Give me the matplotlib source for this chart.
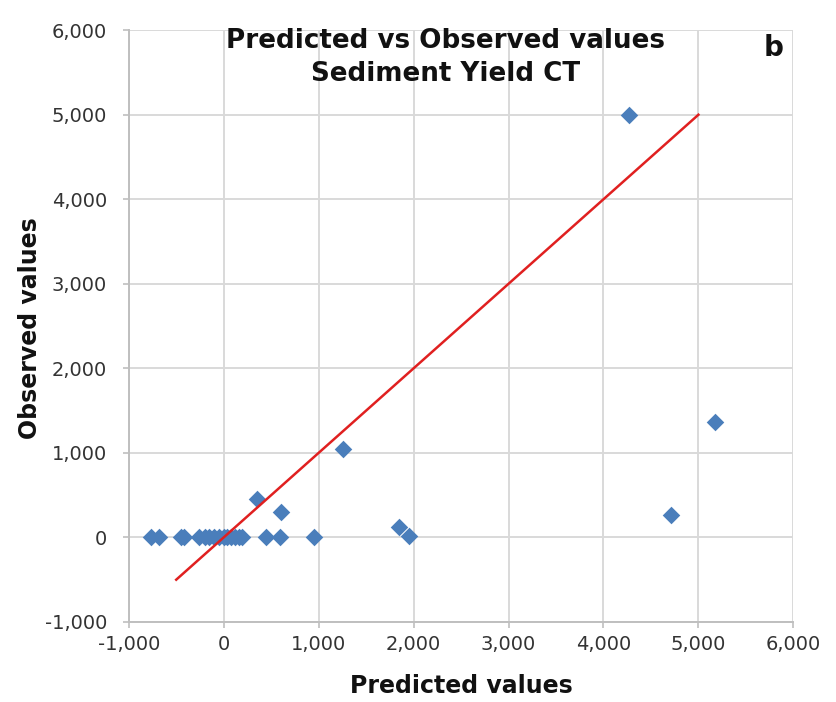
import matplotlib
matplotlib.use("Agg")
import matplotlib.pyplot as plt
from matplotlib.ticker import FuncFormatter, MultipleLocator

plt.rcParams['font.family'] = ['DejaVu Sans']

# Data
predicted = [-770, -680, -450, -420, -260, -200, -150, -100, -50, 0, 40, 80, 120, 160, 190,
             450, 590, 950, 350, 600, 1260, 1850, 1950, 4270, 4710, 5170]
observed = [0, 0, 0, 0, 0, 0, 0, 0, 0, 0, 0, 0, 0, 0, 0,
            0, 0, 0, 460, 300, 1050, 120, 20, 5000, 260, 1360]
line_x = [-500, 5000]
line_y = [-500, 5000]

title = "Predicted vs Observed values\nSediment Yield CT"
panel_label = "b"
xlabel = "Predicted values"
ylabel = "Observed values"

fig = plt.figure(figsize=(8.36, 7.02), dpi=100)
ax = fig.add_axes([0.154, 0.114, 0.795, 0.843])

ax.set_xlim(-1000, 6000)
ax.set_ylim(-1000, 6000)
ax.xaxis.set_major_locator(MultipleLocator(1000))
ax.yaxis.set_major_locator(MultipleLocator(1000))
fmt = FuncFormatter(lambda v, p: f"{int(v):,}")
ax.xaxis.set_major_formatter(fmt)
ax.yaxis.set_major_formatter(fmt)

ax.grid(True, color='#D9D9D9', linewidth=1.4, zorder=0)
ax.set_axisbelow(True)
for s in ['top', 'right']:
    ax.spines[s].set_visible(False)
for s in ['left', 'bottom']:
    ax.spines[s].set_color('#BFBFBF')
    ax.spines[s].set_linewidth(1.4)
ax.tick_params(axis='both', colors='#BFBFBF', labelcolor='#333333', labelsize=14,
               length=4.5, width=1.2)
ax.tick_params(axis='y', pad=11)
ax.tick_params(axis='x', pad=5)

ax.scatter(predicted, observed, marker='D', s=80, color='#4A7EBB', zorder=3, linewidths=0)
ax.plot(line_x, line_y, color='#E02020', linewidth=1.8, zorder=4)

fig.text(0.533, 0.918, title, ha='center', va='center', fontsize=18.8,
         fontweight='bold', linespacing=1.35, color='#111111')
fig.text(0.925, 0.932, panel_label, ha='center', va='center', fontsize=20,
         fontweight='bold', color='#111111')

fig.text(0.552, 1 - 686 / 702, xlabel, ha='center', va='center', fontsize=17,
         fontweight='bold', color='#111111')
fig.text(30 / 836, 1 - 328 / 702, ylabel, ha='center', va='center', fontsize=17,
         fontweight='bold', color='#111111', rotation=90)

fig.savefig("out.png", dpi=100)
